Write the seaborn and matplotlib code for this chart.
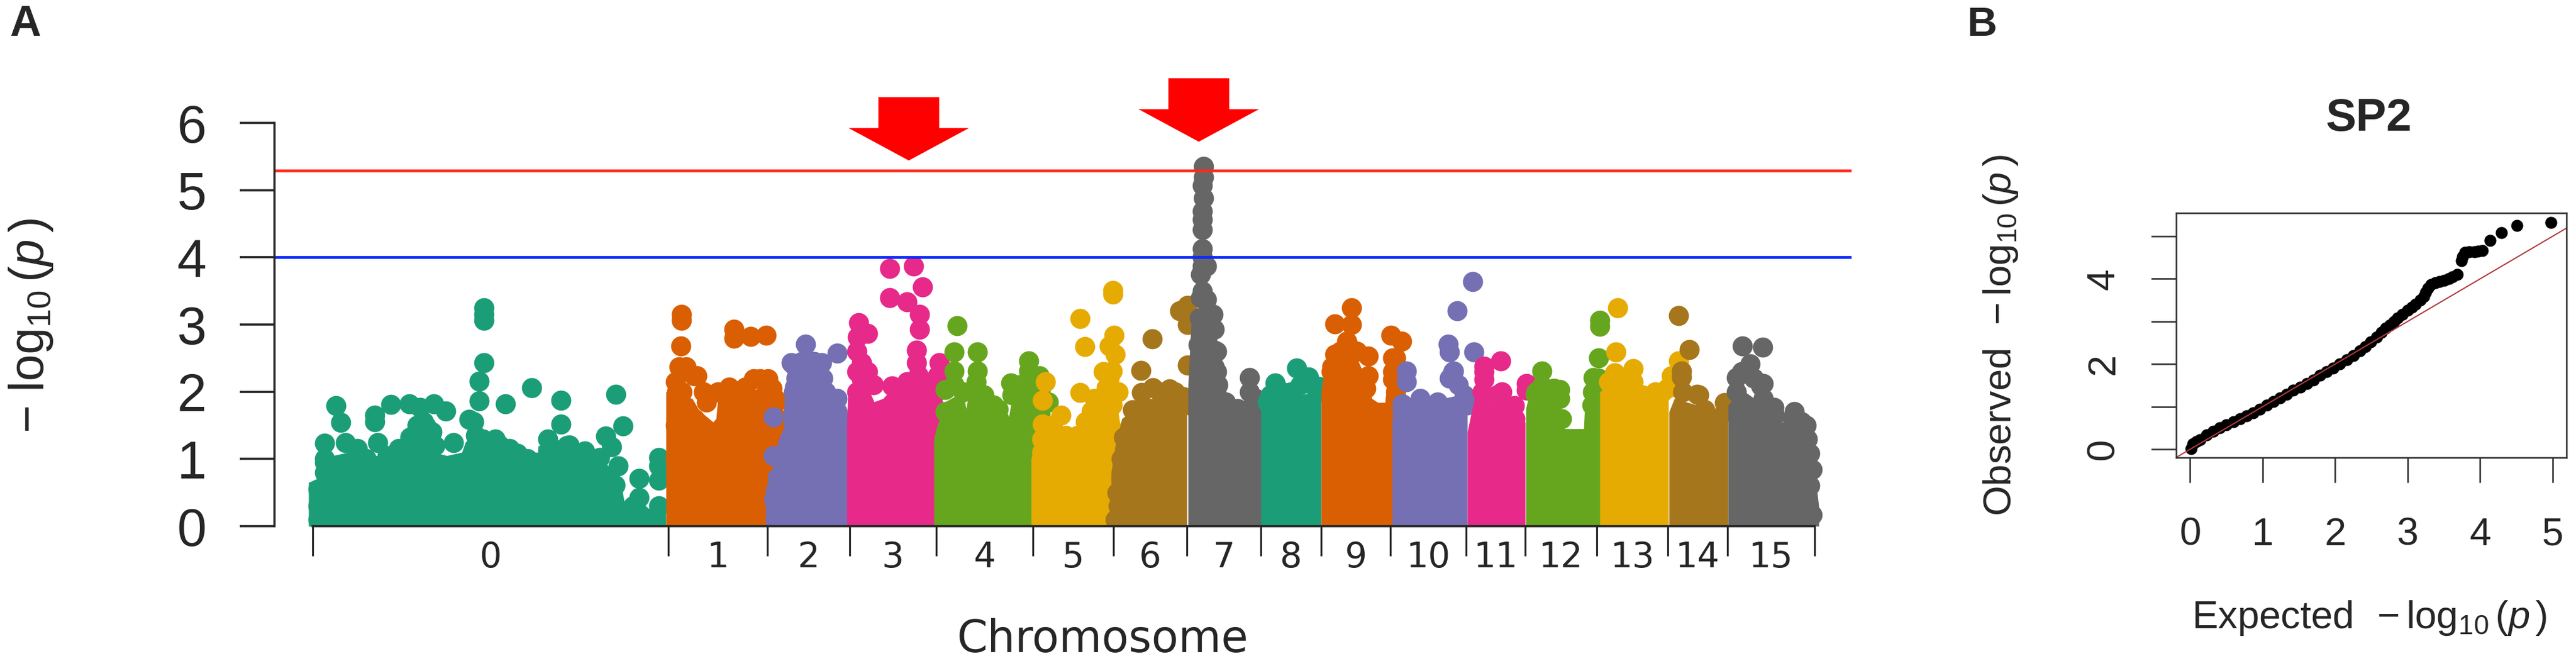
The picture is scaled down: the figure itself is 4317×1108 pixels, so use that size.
import matplotlib
matplotlib.use("Agg")
import matplotlib.pyplot as plt
import numpy as np
import pandas as pd
import seaborn as sns

W, H = 4317, 1108

# chromosome sizes, same units as the positions below
chrom_sizes = [596, 166, 138, 145, 162, 135, 123, 124, 101, 116, 127, 99, 120, 119, 100, 146]
chrom_names = [str(i) for i in range(16)]

sig_line = 5.29
sug_line = 4.0
arrow_pos = [999, 1485]
arrow_tip = [5.44, 5.72]

# visible SNPs per chromosome (cumulative position, -log10 p)
chr0_pos = [287, 287, 287, 287, 279, 279, 323, 367, 416, 416, 508, 520, 39, 47, 104, 104, 131, 162, 180, 203, 223, 262, 270, 190, 180, 170, 190, 20, 55, 75, 109, 144, 236, 285, 313, 343, 394, 399, 430, 456, 491, 501, 512, 481, 547, 580, 580, 580, 547, 580, 507, 537, 20, 175, 273, 163, 186, 200, 205, 306, 330, 360, 375, 410, 426, 456, 20, 20, 9, 9, 9, 125, 90]
chr0_logp = [3.25, 3.15, 3.06, 2.43, 2.16, 1.86, 1.82, 2.06, 1.87, 1.52, 1.96, 1.49, 1.79, 1.54, 1.65, 1.55, 1.81, 1.82, 1.77, 1.82, 1.71, 1.59, 1.55, 1.49, 1.4, 1.3, 1.3, 1.23, 1.24, 1.15, 1.24, 1.15, 1.24, 1.3, 1.21, 1.08, 1.3, 1.18, 1.21, 1.12, 1.34, 1.18, 0.9, 1.02, 0.71, 1.02, 0.9, 0.68, 0.43, 0.3, 0.61, 0.3, 0.95, 1.5, 1.35, 1.32, 1.55, 1.4, 1.2, 1.3, 1.15, 1.0, 0.95, 1.1, 1.2, 1.08, 1.0, 0.8, 0.55, 0.3, 0.1, 1.05, 1.0]
chr1_pos = [618, 618, 617, 614, 639, 619, 706, 706, 734, 760, 626, 644, 679, 698, 739, 763, 715, 610, 608, 775, 640, 775, 608, 608, 691, 706, 725, 750, 770, 777, 780, 655, 660]
chr1_logp = [3.15, 3.06, 2.68, 2.37, 2.24, 2.0, 2.93, 2.8, 2.82, 2.84, 2.37, 2.24, 2.0, 2.07, 2.19, 2.19, 2.0, 2.0, 1.5, 1.9, 1.6, 1.5, 2.15, 1.0, 2.0, 2.0, 2.07, 2.19, 2.05, 1.85, 1.6, 2.0, 1.85]
chr2_pos = [826, 879, 853, 802, 838, 818, 879, 772, 879, 848, 772, 869, 779, 773, 810, 806, 806, 806, 806, 820, 840, 855, 860, 865, 873, 890, 879]
chr2_logp = [2.71, 2.57, 2.43, 2.43, 2.3, 2.06, 1.9, 1.62, 1.49, 1.55, 1.05, 1.3, 0.73, 0.4, 2.2, 2.4, 2.0, 1.7, 1.4, 2.45, 2.45, 2.2, 2.0, 1.85, 1.7, 1.55, 1.7]
chr3_pos = [967, 1007, 1022, 967, 996, 1017, 1017, 915, 930, 913, 1012, 1012, 920, 930, 920, 1050, 1047, 971, 996, 1027, 912, 912, 912, 913, 940, 1000, 1015, 1020, 1035, 1045, 1040]
chr3_logp = [3.83, 3.87, 3.56, 3.4, 3.34, 3.15, 2.93, 3.03, 2.87, 2.81, 2.62, 2.43, 2.43, 2.3, 2.18, 2.43, 2.24, 2.09, 2.15, 2.09, 2.6, 2.3, 2.0, 1.7, 2.1, 2.1, 2.25, 2.0, 1.9, 2.0, 1.8]
chr4_pos = [1080, 1075, 1114, 1114, 1075, 1200, 1200, 1170, 1060, 1149, 1218, 1114, 1141, 1060, 1075, 1090, 1112, 1125, 1130, 1150, 1172, 1185, 1205, 1220, 1233]
chr4_logp = [2.98, 2.59, 2.59, 2.31, 2.31, 2.46, 2.31, 2.13, 2.03, 1.74, 2.24, 2.0, 1.8, 1.7, 2.1, 2.0, 2.15, 1.95, 1.85, 1.6, 1.95, 2.1, 2.15, 2.05, 1.85]
chr5_pos = [1341, 1341, 1286, 1294, 1343, 1335, 1345, 1286, 1228, 1223, 1223, 1254, 1340, 1330, 1305, 1222, 1350, 1222, 1228, 1240, 1262, 1282, 1295, 1310, 1325, 1335, 1340, 1345, 1340]
chr5_logp = [3.51, 3.45, 3.09, 2.67, 2.84, 2.68, 2.56, 1.99, 2.15, 1.87, 1.52, 1.65, 2.31, 2.06, 1.71, 1.3, 2.0, 1.1, 1.5, 1.5, 1.35, 1.35, 1.55, 1.9, 2.3, 2.2, 1.8, 1.4, 1.1]
chr6_pos = [1453, 1466, 1466, 1407, 1388, 1466, 1359, 1374, 1389, 1408, 1436, 1459, 1355, 1350, 1345, 1420, 1445, 1470, 1355, 1348]
chr6_logp = [3.2, 3.28, 3.0, 2.79, 2.32, 2.4, 1.32, 1.73, 1.99, 2.06, 2.04, 1.93, 0.7, 0.3, 0.1, 2.0, 2.0, 1.8, 1.0, 0.5]
chr7_pos = [1493, 1493, 1491, 1493, 1491, 1491, 1491, 1491, 1491, 1491, 1498, 1488, 1491, 1498, 1509, 1511, 1511, 1511, 1514, 1570, 1570, 1580, 1486, 1484, 1488, 1500, 1505, 1515, 1515, 1517, 1570, 1578, 1550, 1530]
chr7_logp = [5.35, 5.19, 5.07, 4.88, 4.69, 4.56, 4.41, 4.13, 4.0, 3.87, 3.87, 3.75, 3.5, 3.37, 3.15, 2.93, 2.62, 2.37, 2.0, 2.21, 2.0, 1.9, 3.1, 2.7, 3.4, 3.2, 3.0, 2.6, 2.3, 2.1, 1.75, 1.8, 1.75, 1.85]
chr8_pos = [1613, 1649, 1669, 1686, 1605, 1625, 1640, 1655, 1675, 1685, 1600]
chr8_logp = [2.13, 2.35, 2.22, 2.08, 1.95, 2.0, 2.0, 2.1, 2.1, 2.0, 1.85]
chr9_pos = [1741, 1741, 1713, 1733, 1713, 1769, 1743, 1708, 1769, 1807, 1825, 1810, 1810, 1815, 1707, 1722, 1735, 1750, 1760, 1765, 1810, 1815]
chr9_logp = [3.25, 3.0, 3.01, 2.75, 2.56, 2.53, 2.62, 2.37, 2.24, 2.84, 2.75, 2.5, 2.18, 2.0, 2.3, 2.6, 2.7, 2.6, 2.2, 2.05, 2.3, 2.5]
chr10_pos = [1944, 1918, 1903, 1905, 1946, 1912, 1833, 1833, 1856, 1826, 1911, 1826, 1856, 1870, 1885, 1905, 1920, 1930, 1935]
chr10_logp = [3.64, 3.2, 2.71, 2.59, 2.59, 2.31, 2.31, 2.15, 1.9, 1.82, 2.3, 1.7, 1.8, 1.75, 1.85, 2.2, 2.1, 1.95, 1.8]
chr11_pos = [1963, 1991, 1963, 1993, 1989, 2014, 2034, 2034, 1963, 1960, 1963, 1985, 2000, 1995, 2015]
chr11_logp = [2.38, 2.46, 2.18, 2.0, 1.97, 1.79, 2.12, 2.02, 2.3, 2.0, 1.75, 1.95, 1.8, 1.85, 1.6]
chr12_pos = [2157, 2157, 2155, 2060, 2146, 2060, 2090, 2049, 2050, 2068, 2080, 2090, 2093, 2144, 2145, 2155]
chr12_logp = [3.06, 2.97, 2.5, 2.31, 2.21, 2.09, 2.03, 1.96, 2.0, 2.0, 2.05, 1.9, 1.6, 1.8, 2.0, 2.2]
chr13_pos = [2187, 2184, 2213, 2182, 2277, 2289, 2183, 2172, 2195, 2213, 2228, 2250, 2262, 2270]
chr13_logp = [3.25, 2.59, 2.34, 2.28, 2.24, 2.46, 2.27, 2.15, 2.15, 2.15, 1.95, 2.0, 2.0, 2.05]
chr14_pos = [2289, 2307, 2294, 2294, 2320, 2366, 2333, 2296, 2296, 2323, 2333, 2345, 2366]
chr14_logp = [3.13, 2.63, 2.31, 2.22, 1.96, 1.84, 1.73, 2.0, 1.7, 1.95, 1.73, 1.55, 1.7]
chr15_pos = [2396, 2430, 2401, 2427, 2409, 2386, 2431, 2449, 2483, 2503, 2509, 2513, 2509, 2513, 2386, 2395, 2415, 2431, 2450, 2480, 2495, 2505]
chr15_logp = [2.68, 2.66, 2.31, 2.09, 2.41, 2.21, 2.12, 1.77, 1.7, 1.5, 1.08, 0.84, 0.6, 0.17, 2.0, 2.3, 2.2, 1.9, 1.65, 1.6, 1.55, 1.3]

# height of the solid mass of SNPs under the visible ones
chr0_mass_pos = [-7, 6, 8, 60, 90, 110, 133, 163, 186, 200, 203, 225, 250, 256, 279, 300, 329, 350, 376, 378, 433, 460, 476, 490, 515, 525, 545, 565, 592]
chr0_mass_logp = [0.65, 0.7, 1.0, 1.1, 1.05, 1.05, 1.1, 1.25, 1.5, 1.55, 1.1, 1.05, 1.1, 1.25, 1.45, 1.3, 1.1, 1.05, 0.95, 1.2, 1.15, 1.0, 0.9, 0.95, 0.7, 0.24, 0.4, 0.25, 0.35]
chr1_mass_pos = [592, 636, 648, 671, 676, 679, 691, 716, 746, 771, 776, 781, 786]
chr1_mass_logp = [2.0, 1.9, 1.72, 1.55, 1.6, 1.9, 1.95, 1.95, 2.05, 2.05, 1.9, 1.7, 1.3]
chr2_mass_pos = [759, 770, 781, 789, 791, 801, 846, 854, 861, 876, 891, 898]
chr2_mass_logp = [0.55, 0.85, 1.3, 1.45, 2.1, 2.3, 2.3, 1.95, 1.6, 1.55, 1.5, 1.5]
chr3_mass_pos = [895, 897, 931, 941, 956, 966, 996, 1006, 1026, 1041, 1050, 1056]
chr3_mass_logp = [1.5, 2.0, 2.05, 1.85, 1.9, 2.0, 2.05, 2.1, 1.9, 1.95, 2.1, 1.8]
chr4_mass_pos = [1041, 1045, 1060, 1090, 1095, 1100, 1130, 1145, 1155, 1165, 1172, 1190, 1225, 1236]
chr4_mass_logp = [1.3, 1.45, 1.85, 2.0, 1.75, 2.0, 1.9, 1.55, 1.5, 1.55, 1.9, 2.1, 2.1, 1.7]
chr5_mass_pos = [1204, 1215, 1260, 1272, 1285, 1305, 1325, 1345, 1350, 1355]
chr5_mass_logp = [1.0, 1.4, 1.35, 1.35, 1.4, 1.45, 1.9, 2.2, 1.7, 1.4]
chr6_mass_pos = [1338, 1345, 1356, 1372, 1385, 1400, 1450, 1465]
chr6_mass_logp = [0.8, 1.2, 1.6, 1.7, 1.85, 1.9, 1.9, 1.85]
chr7_mass_pos = [1467, 1472, 1490, 1500, 1515, 1525, 1530, 1545, 1555, 1590]
chr7_mass_logp = [2.1, 3.0, 3.3, 3.2, 2.8, 2.0, 1.7, 1.7, 1.8, 1.8]
chr8_mass_pos = [1589, 1600, 1630, 1650, 1690]
chr8_mass_logp = [1.9, 2.0, 1.95, 1.95, 2.0]
chr9_mass_pos = [1690, 1695, 1745, 1770, 1775, 1785, 1797, 1800, 1815, 1825, 1836]
chr9_mass_logp = [2.0, 2.3, 2.6, 2.1, 1.9, 1.84, 1.84, 2.1, 2.2, 2.0, 1.9]
chr10_mass_pos = [1809, 1815, 1840, 1855, 1875, 1895, 1920, 1935]
chr10_mass_logp = [1.6, 1.75, 1.8, 1.8, 1.7, 1.9, 1.95, 1.85]
chr11_mass_pos = [1935, 1942, 1950, 1965, 1975, 1990, 2000, 2015, 2032]
chr11_mass_logp = [1.4, 1.7, 2.0, 1.95, 1.8, 1.85, 1.75, 1.6, 1.55]
chr12_mass_pos = [2033, 2040, 2080, 2095, 2098, 2130, 2133, 2150, 2160]
chr12_mass_logp = [1.75, 2.0, 1.9, 1.7, 1.45, 1.45, 2.0, 2.2, 2.1]
chr13_mass_pos = [2157, 2165, 2200, 2215, 2225, 2250, 2265, 2272]
chr13_mass_logp = [2.0, 2.05, 2.1, 2.0, 1.9, 1.95, 2.0, 2.05]
chr14_mass_pos = [2273, 2282, 2320, 2335, 2345, 2350, 2372]
chr14_mass_logp = [1.7, 1.9, 1.8, 1.7, 1.55, 1.6, 1.75]
chr15_mass_pos = [2372, 2385, 2400, 2440, 2460, 2480, 2500, 2510, 2520, 2524]
chr15_mass_logp = [1.8, 1.95, 2.0, 1.75, 1.55, 1.55, 1.4, 1.1, 0.6, 0.3]

# QQ plot
qq_expected = [0.01, 0.04, 0.09, 0.14, 0.23, 0.32, 0.41, 0.5, 0.6, 0.69, 0.78, 0.87, 0.96, 1.06, 1.15, 1.24, 1.33, 1.42, 1.52, 1.61, 1.7, 1.79, 1.88, 1.97, 2.06, 2.16, 2.25, 2.34, 2.42, 2.49, 2.57, 2.64, 2.7, 2.75, 2.81, 2.86, 2.93, 3.0, 3.06, 3.11, 3.17, 3.22, 3.25, 3.28, 3.32, 3.38, 3.44, 3.5, 3.57, 3.62, 3.68, 3.74, 3.76, 3.79, 3.85, 3.92, 3.97, 4.03, 4.14, 4.29, 4.51, 4.98]
qq_observed = [0.02, 0.12, 0.18, 0.23, 0.33, 0.42, 0.5, 0.58, 0.65, 0.72, 0.79, 0.86, 0.94, 1.03, 1.12, 1.21, 1.29, 1.38, 1.46, 1.54, 1.63, 1.73, 1.82, 1.91, 2.0, 2.1, 2.2, 2.31, 2.41, 2.52, 2.63, 2.75, 2.84, 2.92, 3.0, 3.08, 3.17, 3.26, 3.33, 3.4, 3.5, 3.59, 3.69, 3.78, 3.87, 3.91, 3.94, 3.97, 4.01, 4.05, 4.1, 4.43, 4.52, 4.62, 4.63, 4.64, 4.65, 4.66, 4.9, 5.08, 5.25, 5.32]

snp_pos = [chr0_pos, chr1_pos, chr2_pos, chr3_pos, chr4_pos, chr5_pos, chr6_pos, chr7_pos,
           chr8_pos, chr9_pos, chr10_pos, chr11_pos, chr12_pos, chr13_pos, chr14_pos, chr15_pos]
snp_logp = [chr0_logp, chr1_logp, chr2_logp, chr3_logp, chr4_logp, chr5_logp, chr6_logp, chr7_logp,
            chr8_logp, chr9_logp, chr10_logp, chr11_logp, chr12_logp, chr13_logp, chr14_logp, chr15_logp]
mass_pos = [chr0_mass_pos, chr1_mass_pos, chr2_mass_pos, chr3_mass_pos, chr4_mass_pos, chr5_mass_pos,
            chr6_mass_pos, chr7_mass_pos, chr8_mass_pos, chr9_mass_pos, chr10_mass_pos, chr11_mass_pos,
            chr12_mass_pos, chr13_mass_pos, chr14_mass_pos, chr15_mass_pos]
mass_logp = [chr0_mass_logp, chr1_mass_logp, chr2_mass_logp, chr3_mass_logp, chr4_mass_logp, chr5_mass_logp,
             chr6_mass_logp, chr7_mass_logp, chr8_mass_logp, chr9_mass_logp, chr10_mass_logp, chr11_mass_logp,
             chr12_mass_logp, chr13_mass_logp, chr14_mass_logp, chr15_mass_logp]

sns.set_style("white")
plt.rcParams["font.family"] = ["Liberation Sans", "DejaVu Sans"]
plt.rcParams["mathtext.fontset"] = "custom"
plt.rcParams["mathtext.rm"] = "Liberation Sans"
plt.rcParams["mathtext.it"] = "Liberation Sans:italic"
plt.rcParams["mathtext.default"] = "rm"

fig = plt.figure(figsize=(W / 100, H / 100), dpi=100)


def add_axes_px(left, top, right, bottom):
    return fig.add_axes([left / W, 1 - bottom / H, (right - left) / W, (bottom - top) / H])


def add_text_px(x, y, s, **kw):
    fig.text(x / W, 1 - y / H, s, ha="center", va="center", **kw)


def plot_manhattan(ax):
    palette = sns.color_palette("Dark2", 8)
    edges = np.concatenate([[0], np.cumsum(chrom_sizes)])
    for i in range(16):
        color = palette[i % 8]
        ax.fill_between(mass_pos[i], 0, mass_logp[i], color=color, linewidth=0)
        df = pd.DataFrame({"pos": snp_pos[i], "logp": snp_logp[i]})
        sns.scatterplot(data=df, x="pos", y="logp", color=color, s=590, linewidth=0, ax=ax, legend=False)

    ax.axhline(sig_line, color="#ff2a1a", lw=3.4)
    ax.axhline(sug_line, color="#0a2aff", lw=3.4)

    # arrows sit above the axes top so no clipping
    for x, tip in zip(arrow_pos, arrow_tip):
        ax.fill([x, x - 101, x - 51, x - 51, x + 51, x + 51, x + 101],
                [tip, tip + 0.484, tip + 0.484, tip + 0.944, tip + 0.944, tip + 0.484, tip + 0.484],
                color="#ff0000", linewidth=0, clip_on=False, zorder=5)

    ax.set_xlim(-64, 2579)
    ax.set_ylim(0, 6)
    sns.despine(ax=ax)
    ax.spines["left"].set_bounds(0, 6)
    ax.spines["bottom"].set_bounds(0, edges[-1])
    ax.spines["left"].set_linewidth(2.6)
    ax.spines["bottom"].set_linewidth(2.6)

    ax.set_yticks(range(7))
    ax.tick_params(axis="y", length=42, width=2.6, pad=40, labelsize=64, left=True)
    ax.set_xticks(edges)
    ax.set_xticklabels([])
    ax.tick_params(axis="x", which="major", length=36, width=2.3, bottom=True)
    ax.set_xticks((edges[:-1] + edges[1:]) / 2, minor=True)
    ax.set_xticklabels(chrom_names, minor=True, family="DejaVu Sans", fontsize=42)
    ax.tick_params(axis="x", which="minor", length=0, pad=17)
    ax.set_xlabel("")
    ax.set_ylabel("")


def plot_qq(ax):
    df = pd.DataFrame({"expected": qq_expected, "observed": qq_observed})
    sns.scatterplot(data=df, x="expected", y="observed", color="black", s=210, linewidth=0, ax=ax, legend=False)
    ax.axline((0, 0), slope=1, color="#b03a3a", lw=1.5)
    ax.set_xlim(-0.193, 5.19)
    ax.set_ylim(-0.196, 5.546)
    for side in ax.spines.values():
        side.set_linewidth(1.9)
        side.set_color("#333333")
    ax.set_xticks(range(6))
    ax.set_yticks(range(6))
    ax.set_yticklabels(["0", "", "2", "", "4", ""], rotation=90, va="center")
    ax.tick_params(axis="x", length=30, width=1.9, color="#333333", pad=42, labelsize=47, bottom=True)
    ax.tick_params(axis="y", length=30, width=1.9, color="#333333", pad=36, labelsize=47, left=True)
    ax.set_xlabel("")
    ax.set_ylabel("")


ax_a = add_axes_px(460, 206, 3103, 882)
plot_manhattan(ax_a)
ax_b = add_axes_px(3647, 357, 4301, 767)
plot_qq(ax_b)

add_text_px(42, 41, "A", fontsize=52, fontweight="bold")
add_text_px(3321, 42, "B", fontsize=50, fontweight="bold")
add_text_px(1848, 1072, "Chromosome", family="DejaVu Sans", fontsize=53)
add_text_px(52, 546, r"$-\ \log_{10}(\mathit{p}\,)$", fontsize=58, rotation=90)
add_text_px(3970, 199, "SP2", fontsize=55, fontweight="bold")
add_text_px(3971, 1036, r"Expected $\,-\log_{10}(\mathit{p}\,)$", fontsize=47)
add_text_px(3353, 562, r"Observed $\,-\log_{10}(\mathit{p}\,)$", fontsize=47, rotation=90)

fig.savefig("out.png", dpi=100)
plt.close(fig)
